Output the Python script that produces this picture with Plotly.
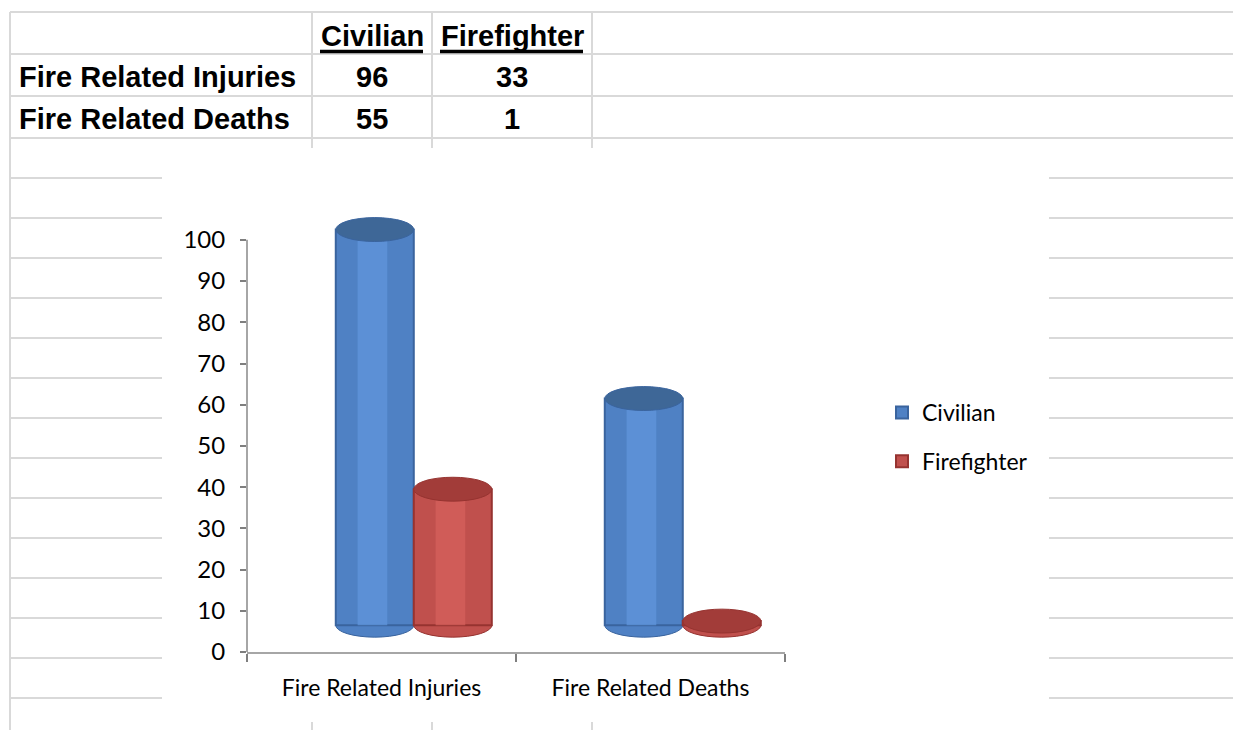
import plotly.graph_objects as go

# ---------------- data ----------------
categories = ["Fire Related Injuries", "Fire Related Deaths"]
series_names = ["Civilian", "Firefighter"]
civilian = [96, 55]
firefighter = [33, 1]
y_ticks = [0, 10, 20, 30, 40, 50, 60, 70, 80, 90, 100]

# ---------------- styling ----------------
W, H = 1241, 730                              # target window
BODY = 8                                      # default page margin of the html body
FW, FH = W, H                                 # figure size
PL, PR, PT, PB = 247, 785, 211, 652          # plot area in window pixels
FLOOR = 6.5                                   # 3-D floor offset (visual)
ELL = 2.9                                     # half height of cylinder caps (y units)
BAR_W = 0.29
OFFSETS = [-0.17, 0.12]
COLORS = {
    "Civilian":    dict(mid="#4f81c4", light="#6096dc", dark="#3a649e", top="#3e6797"),
    "Firefighter": dict(mid="#c0504d", light="#d6605c", dark="#963330", top="#a23c39"),
}
GRID = "#d9d9d9"
TABLE_FONT = dict(family="Liberation Sans, Arial", size=29, color="#000000")
CHART_FONT = dict(family="Lato", size=23, color="#000000")
TICK_FONT = dict(family="Lato", size=24, color="#000000")


def px_x(p):
    return (p - PL) / (PR - PL)


def px_y(p):
    return (PB - p) / (PB - PT)


fig = go.Figure()
shapes = []

values = {"Civilian": civilian, "Firefighter": firefighter}
for name, off in zip(series_names, OFFSETS):
    c = COLORS[name]
    vals = values[name]
    # cylinder body
    fig.add_trace(go.Bar(
        x=categories, y=vals, base=[FLOOR] * len(vals), name=name,
        offset=off, width=BAR_W, legendgroup=name,
        marker=dict(color=c["mid"], line=dict(color=c["dark"], width=2)),
        hoverinfo="skip",
    ))
    # highlight band
    fig.add_trace(go.Bar(
        x=categories, y=vals, base=[FLOOR] * len(vals), name=name,
        offset=off + BAR_W * 0.28, width=BAR_W * 0.38, showlegend=False,
        legendgroup=name, marker=dict(color=c["light"], opacity=0.75, line=dict(width=0)),
        hoverinfo="skip",
    ))
    for i, v in enumerate(vals):
        x0, x1 = i + off, i + off + BAR_W
        # bottom cap
        shapes.append(dict(type="circle", xref="x", yref="y", x0=x0, x1=x1,
                           y0=FLOOR - ELL, y1=FLOOR + ELL, layer="below",
                           fillcolor=c["mid"], line=dict(color=c["dark"], width=1)))
        # top cap
        shapes.append(dict(type="circle", xref="x", yref="y", x0=x0, x1=x1,
                           y0=FLOOR + v - ELL, y1=FLOOR + v + ELL, layer="above",
                           fillcolor=c["top"], line=dict(color=c["dark"], width=1)))

# y axis line (only up to 100)
shapes.append(dict(type="line", xref="paper", yref="y", x0=0, x1=0, y0=0, y1=y_ticks[-1],
                   line=dict(color="#a6a6a6", width=2), layer="above"))

# ---------------- spreadsheet grid ----------------
def hline(y, xa, xb):
    shapes.append(dict(type="line", xref="paper", yref="paper", x0=px_x(xa), x1=px_x(xb),
                       y0=px_y(y), y1=px_y(y), line=dict(color=GRID, width=2), layer="below"))


def vline(x, ya, yb):
    shapes.append(dict(type="line", xref="paper", yref="paper", x0=px_x(x), x1=px_x(x),
                       y0=px_y(ya), y1=px_y(yb), line=dict(color=GRID, width=2), layer="below"))


for y in [12, 54, 96, 138]:
    hline(y, 10, W + BODY)
for y in range(178, 740, 40):
    hline(y, 10, 162)
    hline(y, 1049, W + BODY)
vline(10, 12, H + BODY)
for x in [312, 432, 592]:
    vline(x, 12, 148)
    vline(x, 722, H + BODY)

# ---------------- table ----------------
annotations = []
col_centers = [372, 512]
row_y = [77, 119]
for name, cx in zip(series_names, col_centers):
    annotations.append(dict(text="<b>" + name + "</b>", x=px_x(cx), y=px_y(36), xref="paper",
                            yref="paper", showarrow=False, xanchor="center", yanchor="middle",
                            font=TABLE_FONT))
underlines = [(320, 423), (440, 583)]
for xa, xb in underlines:
    shapes.append(dict(type="line", xref="paper", yref="paper", x0=px_x(xa), x1=px_x(xb),
                       y0=px_y(51.5), y1=px_y(51.5), line=dict(color="#000000", width=3.5)))
for ri, cat in enumerate(categories):
    annotations.append(dict(text="<b>" + cat + "</b>", x=px_x(17), y=px_y(row_y[ri]),
                            xref="paper", yref="paper", showarrow=False, xanchor="left",
                            yanchor="middle", font=TABLE_FONT))
    for name, cx in zip(series_names, col_centers):
        annotations.append(dict(text="<b>" + str(values[name][ri]) + "</b>", x=px_x(cx),
                                y=px_y(row_y[ri]), xref="paper", yref="paper",
                                showarrow=False, xanchor="center", yanchor="middle",
                                font=TABLE_FONT))

fig.update_layout(
    width=FW, height=FH,
    margin=dict(l=PL - BODY, r=FW - (PR - BODY), t=PT - BODY, b=FH - (PB - BODY),
                autoexpand=False),
    paper_bgcolor="#ffffff", plot_bgcolor="rgba(0,0,0,0)",
    barmode="overlay",
    font=CHART_FONT,
    showlegend=True,
    legend=dict(x=px_x(882), y=px_y(437), xanchor="left", yanchor="middle",
                font=CHART_FONT, tracegroupgap=16, bgcolor="rgba(0,0,0,0)"),
    xaxis=dict(type="category", range=[-0.5, 1.5], tickson="boundaries", ticks="outside",
               ticklen=8, tickcolor="#7f7f7f", tickwidth=1.5, showline=True,
               linecolor="#a6a6a6", linewidth=2, showgrid=False, zeroline=False,
               ticklabelstandoff=14, tickfont=CHART_FONT),
    yaxis=dict(range=[0, 107], tickvals=y_ticks, ticks="outside", ticklen=6,
               tickcolor="#7f7f7f", tickwidth=1.5, showline=False, showgrid=False,
               zeroline=False, ticklabelstandoff=10, tickfont=TICK_FONT),
    shapes=shapes,
    annotations=annotations,
)

fig.write_html("out.html", config={"displayModeBar": False})
